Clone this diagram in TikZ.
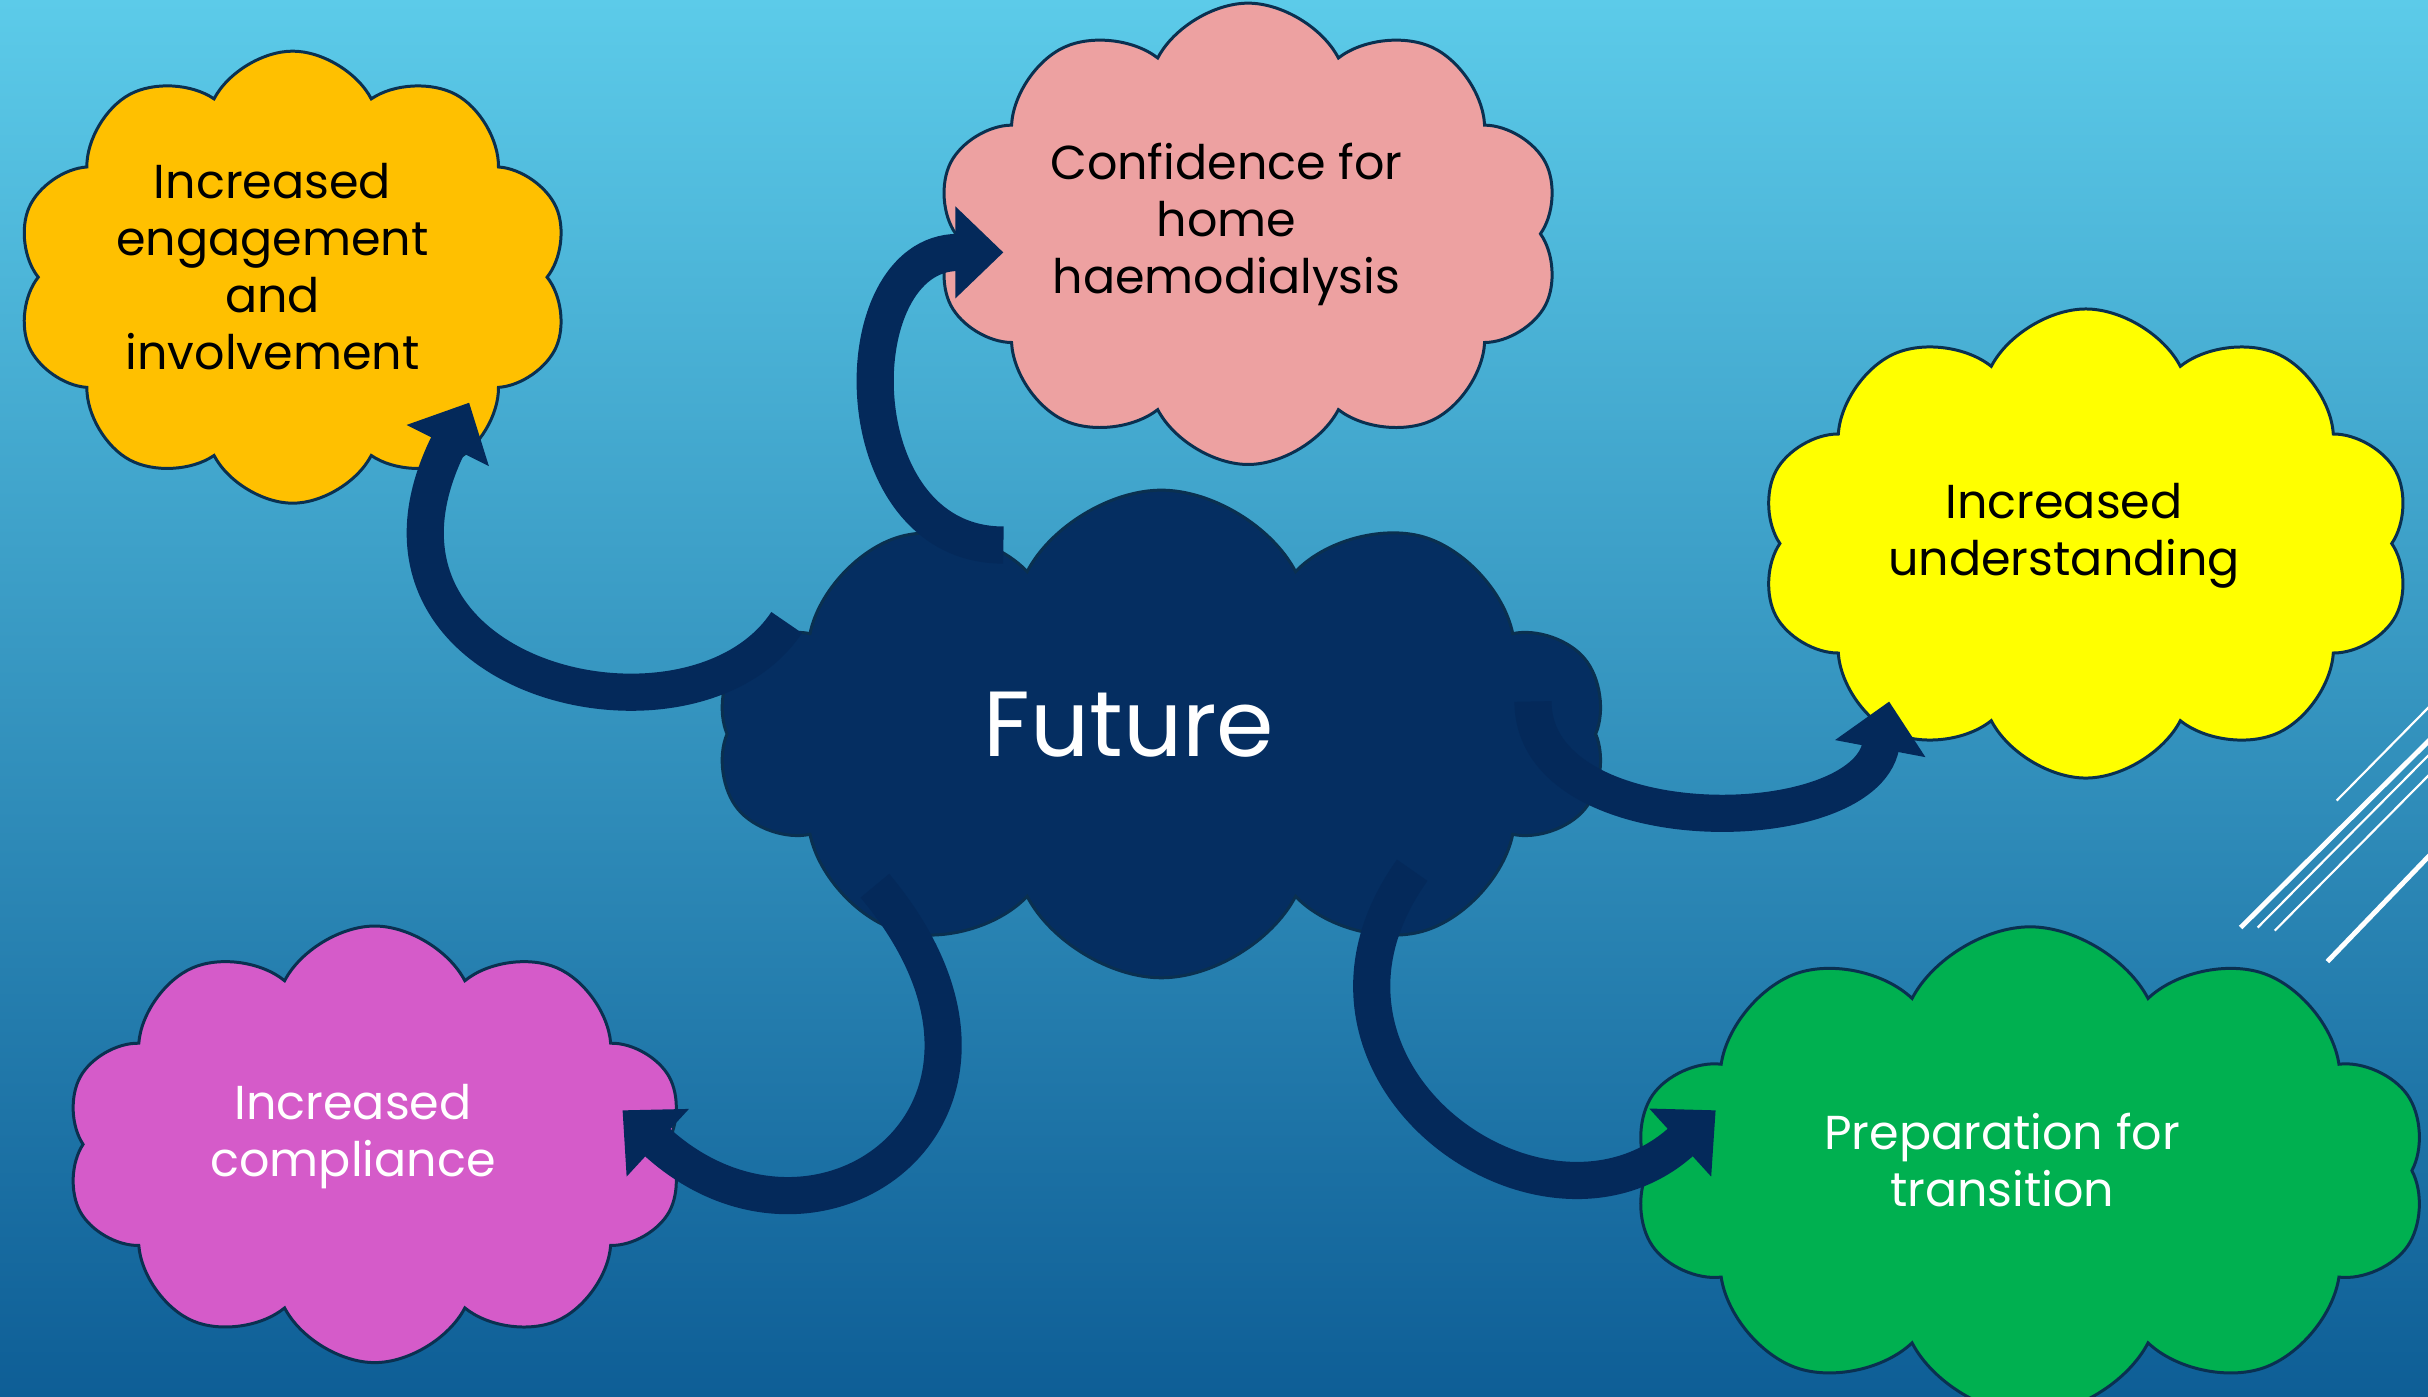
\documentclass[tikz,border=0pt]{standalone}
\usepackage{fontspec}
\setmainfont{Poppins}
\usetikzlibrary{shapes.symbols,arrows.meta,calc}
\definecolor{bgtop}{RGB}{92,203,233}
\definecolor{bgbot}{RGB}{14,94,150}
\definecolor{edge}{RGB}{10,48,80}
\definecolor{arrowc}{RGB}{4,41,90}
\definecolor{futurec}{RGB}{5,46,97}
\definecolor{engagec}{RGB}{255,192,0}
\definecolor{homec}{RGB}{237,161,161}
\definecolor{underc}{RGB}{255,255,0}
\definecolor{complyc}{RGB}{213,91,201}
\definecolor{transc}{RGB}{0,176,80}

\begin{document}
\begin{tikzpicture}[x=0.02cm,y=-0.02cm,
    puff/.style={cloud,cloud puffs=10,cloud puff arc=125,cloud ignores aspect,
                 draw=edge,line width=1.1pt,inner sep=0pt},
    words/.style={align=center,font=\fontsize{17.5}{21}\selectfont},
    flow/.style={draw=arrowc,line width=0.48cm,-{Triangle[width=1.15cm,length=0.62cm]}}]
    % background and the white strokes on the right
    \clip (0,0) rectangle (1568,902);
    \shade[top color=bgtop,bottom color=bgbot] (0,0) rectangle (1568,902);
    \foreach \xa/\ya/\xb/\yb/\w in {1509/517/1580/445/0.8,1447/599/1580/467/1.8,
        1458/599/1580/476/0.8,1469/601/1580/489/0.8,1503/621/1580/541/1.8}
        {\draw[white,line width=\w pt] (\xa,\ya) -- (\xb,\yb);}
    % outer clouds
    \node[puff,fill=engagec,minimum width=7.16cm,minimum height=5.84cm] (engage) at (189,179) {};
    \node[puff,fill=homec,minimum width=8.08cm,minimum height=5.96cm] (home) at (806,151) {};
    \node[puff,fill=underc,minimum width=8.42cm,minimum height=6.06cm] (under) at (1347,351) {};
    \node[puff,fill=complyc,minimum width=8.0cm,minimum height=5.64cm] (comply) at (242,739) {};
    \node[puff,fill=transc,minimum width=10.26cm,minimum height=6.3cm] (trans) at (1311,756) {};
    \node[puff,fill=futurec,minimum width=11.5cm,minimum height=6.3cm] (future) at (750,474) {};
    % texts
    \node[words] (engagetxt) at (176,172) {Increased\\engagement\\and\\involvement};
    \node[words] (hometxt) at (792,145) {Confidence for\\home\\haemodialysis};
    \node[words] (undertxt) at (1333,346) {Increased\\understanding};
    \node[words,white] (complytxt) at (228,734) {Increased\\compliance};
    \node[words,white] (transtxt) at (1293,749) {Preparation for\\transition};
    \node[white,font=\fontsize{34}{40}\selectfont] (futuretxt) at (729,468) {Future};
    % curved arrows out of the centre
    \draw[flow] ($(future)+(-242,-72)$) .. controls +(-61,92) and +(-90,180) .. ($(engage)+(114,81)$);
    \draw[flow] ($(future)+(-102,-122)$) .. controls +(-105,0) and +(-105,0) .. ($(home)+(-158,12)$);
    \draw[flow] ($(future)+(240,-21)$) .. controls +(0,92) and +(-17,90) .. ($(under)+(-127,102)$);
    \draw[flow] ($(future)+(162,88)$) .. controls +(-93,130) and +(-111,101) .. ($(trans)+(-203,-39)$);
    \draw[flow] ($(future)+(-185,98)$) .. controls +(122,146) and +(126,116) .. ($(comply)+(160,-22)$);
\end{tikzpicture}
\end{document}
